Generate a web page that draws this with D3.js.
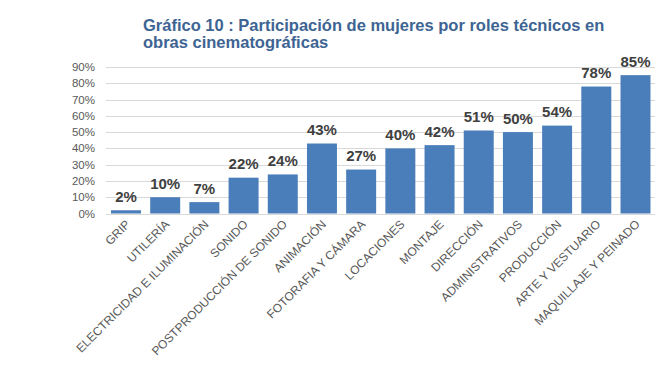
<!DOCTYPE html>
<html><head><meta charset="utf-8">
<script src="https://cdn.jsdelivr.net/npm/d3@7"></script>
<style>body{margin:0;background:#fff;} svg{display:block;font-family:"Liberation Sans",Arial,sans-serif;}</style>
</head><body>
<svg id="c" width="670" height="382"></svg>
<script>
const categories = ["GRIP","UTILERÍA","ELECTRICIDAD E ILUMINACIÓN","SONIDO","POSTPRODUCCIÓN DE SONIDO","ANIMACIÓN","FOTORAFIA Y CÁMARA","LOCACIONES","MONTAJE","DIRECCIÓN","ADMINISTRATIVOS","PRODUCCIÓN","ARTE Y VESTUARIO","MAQUILLAJE Y PEINADO"];
const values = [2,10,7,22,24,43,27,40,42,51,50,54,78,85];
const yTicks = [0,10,20,30,40,50,60,70,80,90];
const titleLines = ["Gráfico 10 : Participación de mujeres por roles técnicos en","obras cinematográficas"];

const svg = d3.select("#c");
const x = d3.scaleBand().domain(categories).range([106.5,655]).paddingInner(0.235).paddingOuter(0.115);
const y = d3.scaleLinear().domain([0,90]).range([213.5,67]);

svg.append("g").selectAll("text").data(titleLines).join("text")
  .attr("x",143).attr("y",(d,i)=>30.5+i*17.5)
  .attr("fill","#3d6493").attr("font-size",16.5).attr("font-weight","bold").text(d=>d);

svg.append("g").selectAll("line").data(yTicks).join("line")
  .attr("x1",106).attr("x2",655).attr("y1",d=>Math.round(y(d))+0.5).attr("y2",d=>Math.round(y(d))+0.5)
  .attr("stroke","#d9d9d9").attr("stroke-width",1);

svg.append("g").selectAll("text").data(yTicks).join("text")
  .attr("x",95).attr("y",d=>y(d)+4).attr("text-anchor","end")
  .attr("fill","#595959").attr("font-size",11.5).text(d=>d+"%");

svg.append("g").selectAll("rect").data(values).join("rect")
  .attr("x",(d,i)=>x(categories[i])).attr("width",x.bandwidth())
  .attr("y",d=>y(d)).attr("height",d=>y(0)-y(d)).attr("fill","#4a7ebb");

svg.append("g").selectAll("text").data(values).join("text")
  .attr("x",(d,i)=>x(categories[i])+x.bandwidth()/2).attr("y",d=>y(d)-8.5)
  .attr("text-anchor","middle").attr("fill","#404040").attr("font-size",15).attr("font-weight","bold")
  .text(d=>d+"%");

svg.append("g").selectAll("text").data(categories).join("text")
  .attr("transform",d=>`translate(${x(d)+x.bandwidth()/2+5},${225}) rotate(-45)`)
  .attr("text-anchor","end").attr("fill","#595959").attr("font-size",12).text(d=>d);
</script>
</body></html>
